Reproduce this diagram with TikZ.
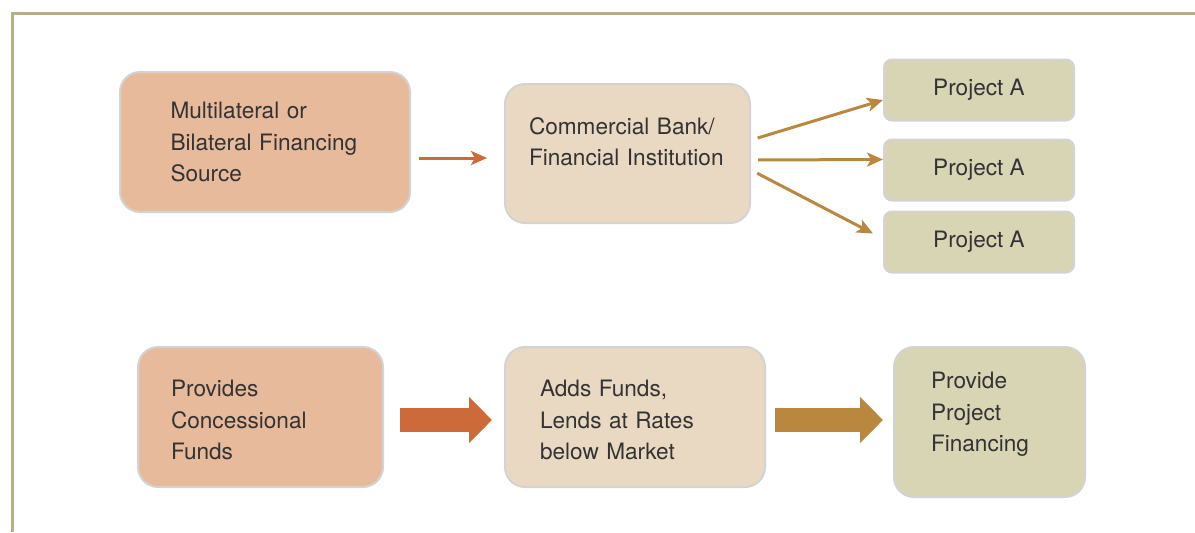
\documentclass[tikz,border=0pt]{standalone}
\usepackage{fontspec}
\setsansfont{TeX Gyre Heros}
\usetikzlibrary{arrows.meta,calc,positioning}
\definecolor{frameC}{HTML}{B8B084}
\definecolor{edgeC}{HTML}{D3D3D3}
\definecolor{salmonC}{HTML}{E8BA9C}
\definecolor{sandC}{HTML}{EAD9C2}
\definecolor{oliveC}{HTML}{D8D5B5}
\definecolor{rustC}{HTML}{CC6A3A}
\definecolor{goldC}{HTML}{BA873E}
\definecolor{inkC}{HTML}{333333}
\begin{document}
\begin{tikzpicture}[x=0.5pt,y=-0.5pt,
  every node/.style={font=\sffamily\fontsize{11.3}{15.75}\selectfont,text=inkC},
  box/.style={draw=edgeC,line width=1pt,rounded corners=10pt,align=left,
    minimum height=70pt,inner ysep=0pt},
  proj/.style={draw=edgeC,line width=1pt,rounded corners=4pt,fill=oliveC,
    minimum width=95pt,minimum height=30.5pt,inner sep=0pt},
  thin/.style={line width=1.5pt,-{Stealth[length=8pt,width=7pt,inset=2pt]}},
  fat/.style={line width=12pt,-{Triangle[length=11.5pt,width=22.5pt]}}]

        \useasboundingbox (0,0) rectangle (1195,532);
        \draw[frameC,line width=1.5pt] (1195,13) -- (12,13) -- (12,532);

        % top row
        \node (src) [box,fill=salmonC,inner xsep=25.25pt,text width=94.5pt] at (265,142)
          {Multilateral or\\Bilateral Financing\\Source};
        \node (bank) [box,fill=sandC,inner xsep=12pt,text width=98.5pt,minimum height=69.5pt] at (627.5,153.5)
          {Commercial Bank/\\Financial Institution\\[-4pt]\mbox{}};
        \node (projA) [proj] at (979,90) {Project A};
        \node (projB) [proj,below = 8.5pt of projA] {Project A};
        \node (projC) [proj,below = 4.5pt of projB] {Project A};

        \draw[thin,rustC,shorten <=4pt,shorten >=8.5pt] ([yshift=-8pt]src.east) -- ([yshift=-2.25pt]bank.west);
        \draw[thin,goldC,shorten <=3.5pt] ([yshift=6.75pt]bank.east) -- ([yshift=-5pt]projA.west);
        \draw[thin,goldC,shorten <=3.5pt] ([yshift=-3.25pt]bank.east) -- ([yshift=5.25pt]projB.west);
        \draw[thin,goldC,shorten <=3.5pt] ([yshift=-8.25pt]bank.east) -- ([xshift=-5pt,yshift=4.25pt]projC.west);

        % bottom row
        \node (funds) [box,fill=salmonC,inner xsep=16.5pt,text width=89.5pt] at (260.5,417)
          {Provides\\Concessional\\Funds\\[-18.75pt]\mbox{}};
        \node (lends) [box,fill=sandC,inner xsep=17.5pt,text width=95pt] at (635,417)
          {Adds Funds,\\Lends at Rates\\below Market\\[-18.75pt]\mbox{}};
        \node (finance) [box,fill=oliveC,inner xsep=18.5pt,text width=58.5pt,minimum height=75pt] at (989.5,422)
          {Provide\\Project\\Financing\\[-5.75pt]\mbox{}};

        \draw[fat,rustC,shorten <=8pt,shorten >=6pt] ([yshift=-1.5pt]funds.east) -- ([yshift=-1.5pt]lends.west);
        \draw[fat,goldC,shorten <=4.5pt,shorten >=5pt] ([yshift=-1.5pt]lends.east) -- ([yshift=1pt]finance.west);
\end{tikzpicture}
\end{document}
